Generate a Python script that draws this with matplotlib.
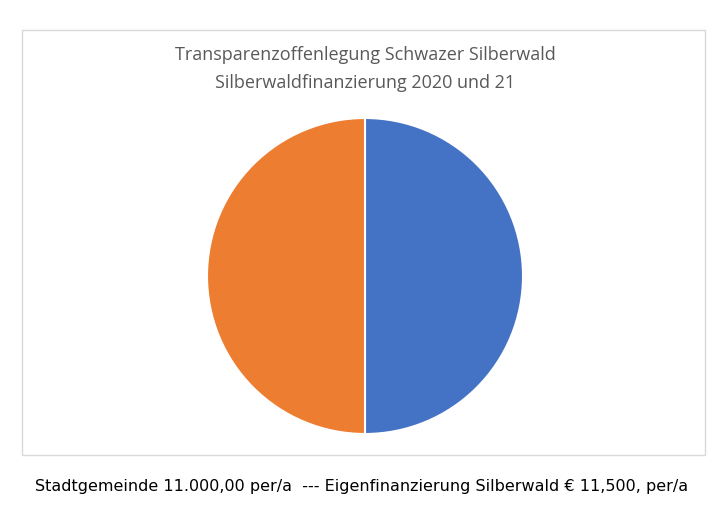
import matplotlib
matplotlib.use("Agg")
import matplotlib.pyplot as plt
from matplotlib.patches import Rectangle

labels = ["Stadtgemeinde", "Eigenfinanzierung Silberwald"]
values = [50, 50]
colors = ["#4472C4", "#ED7D31"]

W, H = 711, 529
fig = plt.figure(figsize=(W / 100, H / 100), dpi=100)
fig.patch.set_facecolor("white")

# chart area border
fig.patches.append(Rectangle((22 / W, 1 - 455 / H), 683 / W, 425 / H,
                             transform=fig.transFigure, fill=False,
                             edgecolor="#D9D9D9", linewidth=1))

cx, cy, r = 365, 276, 158
ax = fig.add_axes([(cx - r) / W, 1 - (cy + r) / H, 2 * r / W, 2 * r / H])
ax.pie(values, colors=colors, startangle=90, counterclock=False,
       wedgeprops=dict(edgecolor="white", linewidth=1.5))
ax.set_xlim(-1, 1)
ax.set_ylim(-1, 1)
ax.set_aspect("equal")
ax.axis("off")

fig.text(365 / W, 1 - 55 / H, "Transparenzoffenlegung Schwazer Silberwald",
         ha="center", va="center", fontsize=13, color="#595959", family="Open Sans")
fig.text(365 / W, 1 - 83 / H, "Silberwaldfinanzierung 2020 und 21",
         ha="center", va="center", fontsize=13, color="#595959", family="Open Sans")

fig.text(362 / W, 1 - 487 / H,
         "Stadtgemeinde 11.000,00 per/a  --- Eigenfinanzierung Silberwald € 11,500, per/a",
         ha="center", va="center", fontsize=11.5, color="black", family="DejaVu Sans")

fig.savefig("out.png", dpi=100)
